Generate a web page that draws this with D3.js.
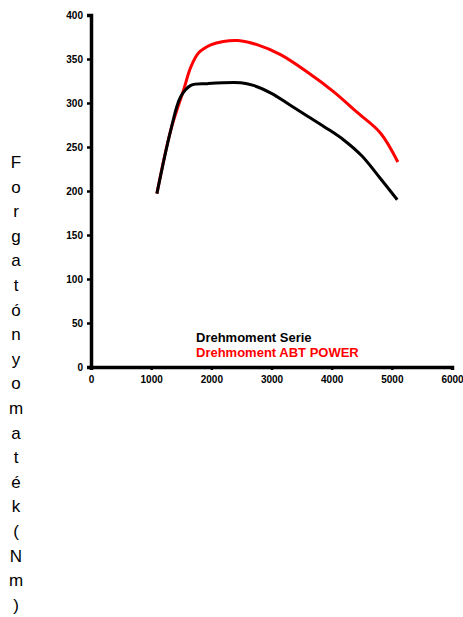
<!DOCTYPE html>
<html>
<head>
<meta charset="utf-8">
<script src="https://cdn.jsdelivr.net/npm/d3@7"></script>
<style>
  body { margin: 0; background: #fff; }
  svg { display: block; }
</style>
</head>
<body>
<svg width="463" height="617"></svg>
<script>

// Drehmoment Serie (black)
const serie_rpm = [1095, 1325, 1490, 1660, 1940, 2490, 2700, 3000, 3300, 3600, 3900, 4200, 4500, 4800, 5090];
const serie_nm  = [197, 269, 307, 320, 322, 323, 320, 311, 298, 285, 272, 258, 240, 215, 190];

// Drehmoment ABT POWER (red)
const abt_rpm = [1095, 1325, 1540, 1660, 1790, 1990, 2200, 2440, 2770, 3150, 3600, 4030, 4430, 4810, 5100];
const abt_nm  = [197, 269, 315, 341, 357, 366, 370, 371, 366, 355, 335, 313, 289, 266, 233];

const x_ticks = [0, 1000, 2000, 3000, 4000, 5000, 6000];
const y_ticks = [0, 50, 100, 150, 200, 250, 300, 350, 400];

const y_label = "Forgatónyomaték(Nm)";
const legend = [
    {name: "Drehmoment Serie", color: "#000"},
    {name: "Drehmoment ABT POWER", color: "#ff0000"}
];

const svg = d3.select('svg');

const margin = {top: 15, left: 91, right: 11, bottom: 250};
const width = +svg.attr('width');
const height = +svg.attr('height');

const x = d3.scaleLinear()
    .domain([0, 6000])
    .range([margin.left, width - margin.right]);

const y = d3.scaleLinear()
    .domain([0, 400])
    .range([height - margin.bottom, margin.top]);

const font = "'Liberation Sans', Arial, sans-serif";

// axes
const yAxis = svg.append("g")
    .attr("transform", `translate(${margin.left}, 0)`)
    .call(d3.axisLeft(y).tickValues(y_ticks).tickFormat(d3.format("d")).tickSize(4).tickPadding(4));

const xAxis = svg.append("g")
    .attr("transform", `translate(0, ${y(0)})`)
    .call(d3.axisBottom(x).tickValues(x_ticks).tickFormat(d3.format("d")).tickSize(3).tickPadding(6));

[yAxis, xAxis].forEach(g => {
    g.select(".domain").attr("stroke-width", 3.5).attr("stroke", "#000");
    g.selectAll(".tick line").attr("stroke-width", 2.5).attr("stroke", "#000");
    g.selectAll(".tick text")
        .attr("font-family", font)
        .attr("font-weight", "bold")
        .attr("font-size", 10)
        .attr("fill", "#000");
});

// lines
const line = d3.line()
    .x(d => x(d[0]))
    .y(d => y(d[1]))
    .curve(d3.curveCatmullRom.alpha(0.5));

svg.append("path")
    .datum(abt_rpm.map((r, i) => [r, abt_nm[i]]))
    .attr("d", line)
    .attr("fill", "none")
    .attr("stroke", legend[1].color)
    .attr("stroke-width", 3);

svg.append("path")
    .datum(serie_rpm.map((r, i) => [r, serie_nm[i]]))
    .attr("d", line)
    .attr("fill", "none")
    .attr("stroke", legend[0].color)
    .attr("stroke-width", 3);

// legend
svg.append("g")
    .selectAll("text")
    .data(legend)
    .join("text")
    .attr("x", 196)
    .attr("y", (d, i) => 342 + i * 15)
    .attr("font-family", font)
    .attr("font-weight", "bold")
    .attr("font-size", 13)
    .attr("fill", d => d.color)
    .text(d => d.name);

// vertical label, one letter per line
svg.append("g")
    .selectAll("text")
    .data(y_label.split(""))
    .join("text")
    .attr("x", 16)
    .attr("y", (d, i) => 168 + i * 24.6)
    .attr("text-anchor", "middle")
    .attr("font-family", font)
    .attr("font-size", 17)
    .attr("fill", "#000")
    .text(d => d);

</script>
</body>
</html>
